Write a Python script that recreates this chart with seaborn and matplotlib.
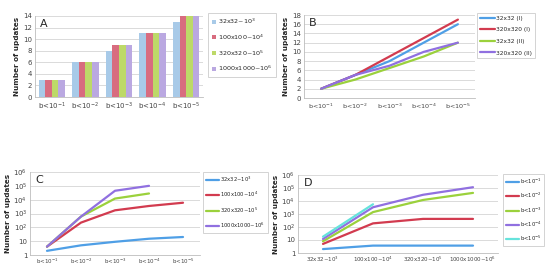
import numpy as np
import pandas as pd
import matplotlib
matplotlib.use("Agg")
import matplotlib.pyplot as plt
import seaborn as sns

# ---- data ----
thresholds = [r"b<$10^{-1}$", r"b<$10^{-2}$", r"b<$10^{-3}$", r"b<$10^{-4}$", r"b<$10^{-5}$"]
grids = [r"32x32~$10^3$", r"100x100~$10^4$", r"320x320~$10^5$", r"1000x1000~$10^6$"]

# panel A (bars)
a_32 = [3, 6, 8, 11, 13]
a_100 = [3, 6, 9, 11, 14]
a_320 = [3, 6, 9, 11, 14]
a_1000 = [3, 6, 9, 11, 14]

# panel B (lines)
b_names = ["32x32 (I)", "320x320 (I)", "32x32 (II)", "320x320 (II)"]
b_32_i = [2, 5, 8, 12, 16]
b_320_i = [2, 5, 9, 13, 17]
b_32_ii = [2, 4, 6.5, 9, 12]
b_320_ii = [2, 5, 7, 10, 12]

# panel C (log lines, per grid size)
c_32 = [2, 5, 9, 15, 20]
c_100 = [4, 220, 1700, 3500, 6000]
c_320 = [4, 600, 12000, 28000, None]
c_1000 = [4, 600, 44000, 100000, None]

# panel D (log lines, per threshold)
d_names = [r"b<$10^{-1}$", r"b<$10^{-2}$", r"b<$10^{-3}$", r"b<$10^{-4}$", r"b<$10^{-5}$"]
d_b1 = [2, 3.7, 3.7, 3.7]
d_b2 = [5, 190, 420, 420]
d_b3 = [8, 1400, 12000, 42000]
d_b4 = [12, 3300, 30000, 115000]
d_b5 = [18, 5600, None, None]

size_names = ["32x32~$10^3$", "100x100~$10^4$", "320x320~$10^5$", "1000x1000~$10^6$"]

blue, red, green, purple, cyan = "#4f9fe6", "#d23b4f", "#9bd13c", "#9070e0", "#66e3dc"
bar_cols = ["#9ecbf2", "#ea5a73", "#c6ec55", "#b79fea"]

W, H = 545, 268


def px(x0, y0, x1, y1):
    return [x0 / W, 1 - y1 / H, (x1 - x0) / W, (y1 - y0) / H]


def long_df(names, series, cats):
    rows = []
    for n, vals in zip(names, series):
        for c, v in zip(cats, vals):
            if v is not None:
                rows.append({"cat": c, "val": v, "series": n})
    return pd.DataFrame(rows)


def style_axis(ax, letter, ncat, xsize=4.4, xpad=2.5):
    ax.set_xlim(-0.5, ncat - 0.5)
    ax.grid(axis="y", color="#d4d4d4", lw=0.6)
    ax.grid(axis="x", visible=False)
    ax.set_axisbelow(True)
    for s in ["top", "right"]:
        ax.spines[s].set_visible(False)
    for s in ["left", "bottom"]:
        ax.spines[s].set_color("#bdbdbd")
        ax.spines[s].set_linewidth(0.6)
    ax.tick_params(axis="x", length=0, labelsize=xsize, pad=xpad, colors="#444444")
    ax.tick_params(axis="y", length=0, labelsize=5.0, pad=2, colors="#444444")
    ax.set_xticks(np.arange(-0.5, ncat), minor=True)
    ax.tick_params(axis="x", which="minor", length=9, width=0.6, color="#bdbdbd")
    ax.set_xlabel("")
    ax.set_ylabel("Number of updates", fontsize=5.2, fontweight="bold", labelpad=2)
    ax.text(0.03, 0.96, letter, transform=ax.transAxes, va="top", ha="left", fontsize=8)


def add_legend(ax, x0, y0, handlelength=2.6, fontsize=4.0, spacing=1.0):
    leg = ax.legend(loc="upper left", bbox_to_anchor=(x0 / W, 1 - y0 / H),
                    bbox_transform=ax.figure.transFigure, fontsize=fontsize, frameon=True,
                    fancybox=False, edgecolor="#c0c0c0", handlelength=handlelength,
                    handletextpad=0.15, borderpad=0.5, borderaxespad=0,
                    labelspacing=spacing, title=None)
    leg.get_frame().set_linewidth(0.6)
    return leg


sns.set_style("white")
plt.rcParams["font.family"] = ["DejaVu Sans"]
fig = plt.figure(figsize=(W / 100, H / 100), dpi=100)

# ---- A ----
axA = fig.add_axes(px(35, 16, 203, 97))
dfA = long_df(size_names, [a_32, a_100, a_320, a_1000], thresholds)
sns.barplot(data=dfA, x="cat", y="val", hue="series", palette=bar_cols, ax=axA,
            width=0.78, edgecolor="none", errorbar=None)
axA.set_ylim(0, 14)
axA.set_yticks(range(0, 15, 2))
style_axis(axA, "A", 5, xsize=5.0)
handles, labels = axA.get_legend_handles_labels()
axA.legend_.remove()
legA = axA.legend(handles, labels, loc="upper left", bbox_to_anchor=(208 / W, 1 - 13 / H),
                  bbox_transform=fig.transFigure, fontsize=4.6, frameon=True, fancybox=False,
                  edgecolor="#c0c0c0", handlelength=0.6, handleheight=0.6, borderaxespad=0,
                  handletextpad=0.3, borderpad=0.6, labelspacing=1.0)
legA.get_frame().set_linewidth(0.6)

# ---- B ----
axB = fig.add_axes(px(304, 15, 475, 98))
dfB = long_df(b_names, [b_32_i, b_320_i, b_32_ii, b_320_ii], thresholds)
sns.lineplot(data=dfB, x="cat", y="val", hue="series", palette=[blue, red, green, purple],
             sort=False, lw=1.6, ax=axB)
axB.set_ylim(0, 18)
axB.set_yticks(range(0, 19, 2))
style_axis(axB, "B", 5, xsize=4.6)
add_legend(axB, 477, 13, handlelength=2.6, fontsize=4.2, spacing=1.1)

# ---- C ----
log_ticks = [1, 10, 1e2, 1e3, 1e4, 1e5, 1e6]
log_labels = ["1", "10", "$10^2$", "$10^3$", "$10^4$", "$10^5$", "$10^6$"]

axC = fig.add_axes(px(30, 172, 200, 255))
dfC = long_df(size_names, [c_32, c_100, c_320, c_1000], thresholds)
sns.lineplot(data=dfC, x="cat", y="val", hue="series", palette=[blue, red, green, purple],
             sort=False, lw=1.6, ax=axC)
axC.set_yscale("log")
axC.set_ylim(1, 1e6)
axC.set_yticks(log_ticks)
axC.set_yticklabels(log_labels)
axC.minorticks_off()
style_axis(axC, "C", 5, xsize=4.0, xpad=1.5)
add_legend(axC, 203, 172, handlelength=2.6, fontsize=3.8, spacing=1.15)

# ---- D ----
axD = fig.add_axes(px(298, 175, 498, 253))
dfD = long_df(d_names, [d_b1, d_b2, d_b3, d_b4, d_b5], grids)
sns.lineplot(data=dfD, x="cat", y="val", hue="series",
             palette=[blue, red, green, purple, cyan], sort=False, lw=1.6, ax=axD)
axD.set_yscale("log")
axD.set_ylim(1, 1e6)
axD.set_yticks(log_ticks)
axD.set_yticklabels(log_labels)
axD.minorticks_off()
style_axis(axD, "D", 4, xsize=4.0, xpad=1.5)
add_legend(axD, 503, 174, handlelength=2.6, fontsize=3.8, spacing=0.95)

fig.savefig("out.png", dpi=100)
